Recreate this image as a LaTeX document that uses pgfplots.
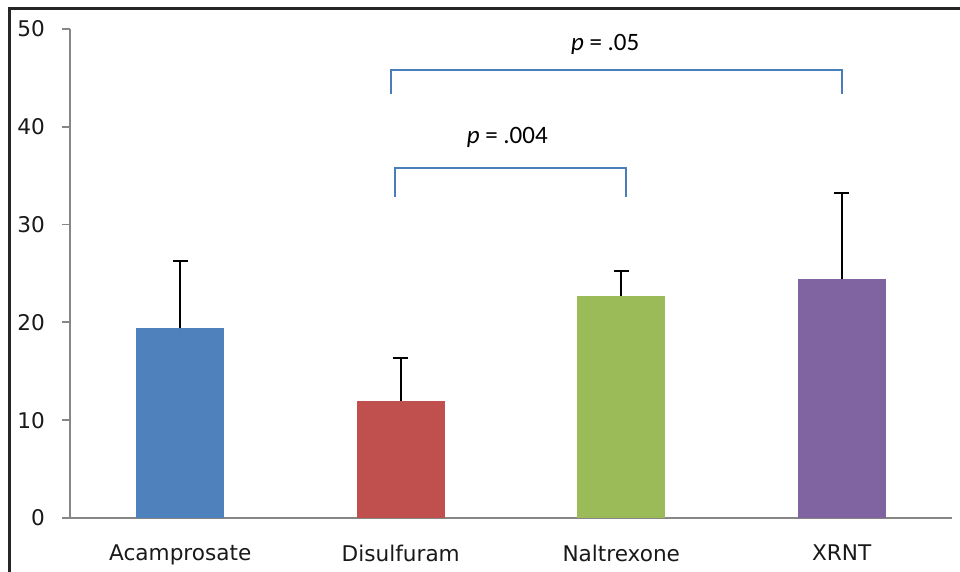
\documentclass[border=0pt]{standalone}
\usepackage{pgfplots}
\pgfplotsset{compat=1.18}
\usepackage{fontspec}
\setmainfont{DejaVu Sans}
\newfontfamily\calfont{Carlito}
\definecolor{cA}{HTML}{4F81BD}
\definecolor{cB}{HTML}{C0504D}
\definecolor{cC}{HTML}{9BBB59}
\definecolor{cD}{HTML}{8064A2}
\definecolor{brk}{HTML}{4A7EBB}
\definecolor{axg}{HTML}{868686}
\begin{document}
\begin{tikzpicture}
\begin{axis}[
  scale only axis,
  width=441pt, height=244.5pt,
  xmin=-0.5, xmax=3.5, ymin=0, ymax=50,
  axis lines*=left,
  axis line style={axg, line width=0.9pt},
  tick align=outside,
  major tick length=4pt,
  tick style={axg, line width=0.9pt},
  xtick={0,1,2,3},
  xticklabels={Acamprosate,Disulfuram,Naltrexone,XRNT},
  major x tick style={draw=none},
  extra x ticks={-0.5,0.5,1.5,2.5,3.5},
  extra x tick labels={},
  extra x tick style={major tick length=4pt, tick style={axg, line width=0.9pt}},
  ytick={0,10,20,30,40,50},
  /pgf/number format/assume math mode=true,
  ticklabel style={font=\fontsize{10.8}{12}\selectfont, text=black!90},
  yticklabel style={xshift=-5pt},
  xticklabel style={yshift=-6pt},
  clip=false,
  bar width=44pt,
]
\addplot[ybar, fill=cA, draw=none, error bars/.cd, y dir=plus, y explicit,
  error bar style={black, line width=1pt},
  error mark options={rotate=90, mark size=3.75pt, line width=1pt, black}]
  coordinates {(0,19.4) +- (0,6.9)};
\addplot[ybar, fill=cB, draw=none, error bars/.cd, y dir=plus, y explicit,
  error bar style={black, line width=1pt},
  error mark options={rotate=90, mark size=3.75pt, line width=1pt, black}]
  coordinates {(1,11.96) +- (0,4.4)};
\addplot[ybar, fill=cC, draw=none, error bars/.cd, y dir=plus, y explicit,
  error bar style={black, line width=1pt},
  error mark options={rotate=90, mark size=3.75pt, line width=1pt, black}]
  coordinates {(2,22.7) +- (0,2.55)};
\addplot[ybar, fill=cD, draw=none, error bars/.cd, y dir=plus, y explicit,
  error bar style={black, line width=1pt},
  error mark options={rotate=90, mark size=3.75pt, line width=1pt, black}]
  coordinates {(3,24.4) +- (0,8.8)};
\draw[brk, line width=1pt] (axis cs:0.975,32.8) -- (axis cs:0.975,35.8) -- (axis cs:2.023,35.8) -- (axis cs:2.023,32.8);
\draw[brk, line width=1pt] (axis cs:0.957,43.35) -- (axis cs:0.957,45.8) -- (axis cs:3.002,45.8) -- (axis cs:3.002,43.35);
\node[font=\calfont\fontsize{12.5}{14}\selectfont] at (axis cs:1.483,38.96) {\textit{p} = .004};
\node[font=\calfont\fontsize{12.5}{14}\selectfont] at (axis cs:1.927,48.4) {\textit{p} = .05};
\end{axis}
\draw[black!85, line width=1.5pt] ([xshift=-30pt,yshift=-27pt]current axis.south west) -- ([xshift=-30pt,yshift=10pt]current axis.north west) -- ([xshift=5pt,yshift=10pt]current axis.north east);
\pgfresetboundingbox
\path[use as bounding box] ([xshift=-35pt,yshift=-26.5pt]current axis.south west) rectangle ([xshift=4pt,yshift=14.5pt]current axis.north east);
\end{tikzpicture}
\end{document}
